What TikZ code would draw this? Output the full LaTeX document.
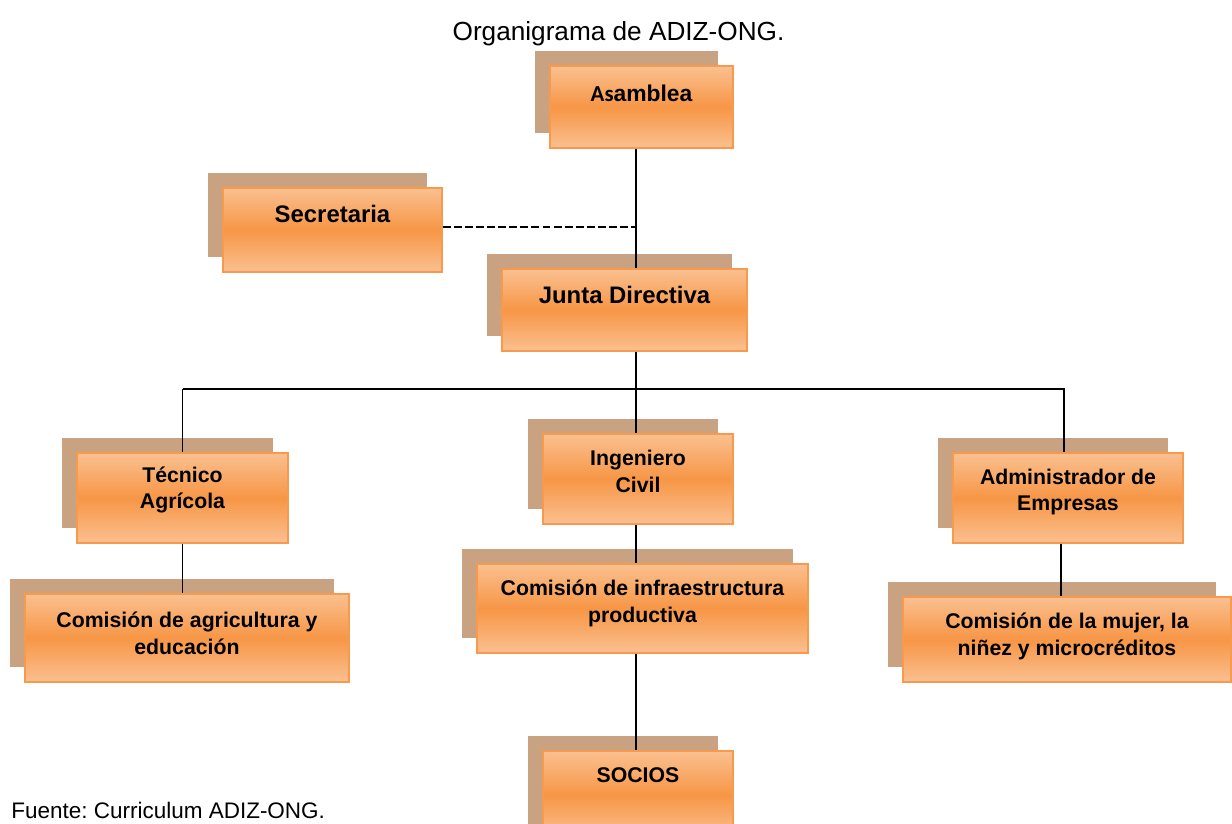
\documentclass[tikz,border=0pt]{standalone}
\usepackage{fontspec}
\setmainfont{Liberation Sans}
\newfontfamily\asfont{Carlito}
\usepackage{tikz}
\frenchspacing
\definecolor{orglight}{HTML}{FAC090}
\definecolor{orgmid}{HTML}{F79646}
\definecolor{orgline}{HTML}{F79A4E}
\definecolor{orgshadow}{HTML}{C9A282}
\tikzstyle{orgbox}=[rectangle, draw=orgline, line width=1.1pt, top color=orglight, bottom color=orglight, middle color=orgmid, preaction={fill=orgshadow, transform canvas={xshift=-0.3cm, yshift=0.3cm}}]
\tikzstyle{lbl}=[align=center, inner sep=0pt, font=\fontsize{12.1}{15.3}\selectfont\bfseries]
\tikzstyle{biglbl}=[lbl, font=\fontsize{13.6}{16}\selectfont\bfseries]
\tikzstyle{conn}=[line width=1pt]

\begin{document}
\begin{tikzpicture}[x=0.02cm, y=-0.02cm]
\useasboundingbox (0,0) rectangle (1232,823);

\node[anchor=base, font=\fontsize{14.9}{17}\selectfont] (title) at (618.5,40) {Organigrama de ADIZ-ONG.};
\node[anchor=base west, inner sep=0pt, font=\fontsize{12.8}{15}\selectfont] (fuente) at (11,818) {Fuente: Curriculum ADIZ-ONG.};

% cargos
\node[orgbox, minimum width=3.66cm, minimum height=1.64cm, label={[lbl, font=\fontsize{13}{15}\selectfont\bfseries, name=asambleatxt, yshift=0.28cm]center:{\asfont As}amblea}] (asamblea) at (641.5,107) {};
\node[orgbox, minimum width=4.38cm, minimum height=1.68cm, label={[biglbl, name=secretariatxt, yshift=0.32cm]center:Secretaria}] (secretaria) at (332.5,230) {};
\node[orgbox, minimum width=4.9cm, minimum height=1.64cm, label={[biglbl, name=juntatxt, yshift=0.3cm]center:Junta Directiva}] (junta) at (624.5,310) {};
\node[orgbox, minimum width=4.22cm, minimum height=1.8cm, label={[lbl, name=tecnicotxt, yshift=0.16cm]center:Técnico\\Agrícola}] (tecnico) at (182.5,498) {};
\node[orgbox, minimum width=3.8cm, minimum height=1.8cm, label={[lbl, name=ingenierotxt, yshift=0.15cm]center:Ingeniero\\Civil}] (ingeniero) at (638,479) {};
\node[orgbox, minimum width=4.6cm, minimum height=1.8cm, label={[lbl, name=admintxt, yshift=0.12cm]center:Administrador de\\Empresas}] (admin) at (1068,498) {};

% comisiones
\node[orgbox, minimum width=6.48cm, minimum height=1.76cm, label={[lbl, name=agritxt, yshift=0.1cm]center:Comisión de agricultura y\\educación}] (agri) at (187,638) {};
\node[orgbox, minimum width=6.62cm, minimum height=1.78cm, label={[lbl, name=infratxt, yshift=0.1cm]center:Comisión de infraestructura\\productiva}] (infra) at (642.5,608.5) {};
\node[orgbox, minimum width=6.56cm, minimum height=1.7cm, label={[lbl, name=mujertxt, yshift=0.07cm]center:Comisión de la mujer, la\\niñez y microcréditos}] (mujer) at (1067,639.5) {};
\node[orgbox, minimum width=3.8cm, minimum height=1.76cm, label={[lbl, name=sociostxt, yshift=0.4cm]center:SOCIOS}] (socios) at (638,795) {};

% lineas
\coordinate (spine) at (636,0);
\coordinate (bus) at (0,389);
\coordinate (secout) at ([yshift=0.06cm]secretaria.east);
\draw[conn] (asamblea.south -| spine) -- (junta.north -| spine);
\draw[conn, line width=1.4pt, dash pattern=on 4.5pt off 1.8pt] (secout) -- (secout -| spine);
\draw[conn] (junta.south -| spine) -- (ingeniero.north -| spine);
\draw[conn] (tecnico.north |- bus) -- (1064,389) -- (admin.north -| 1064,0);
\draw[conn] (tecnico.north |- bus) -- (tecnico.north);
\draw[conn] (tecnico.south) -- (tecnico.south |- agri.north);
\draw[conn] (ingeniero.south -| spine) -- (infra.north -| spine);
\draw[conn] (infra.south -| spine) -- (socios.north -| spine);
\draw[conn] (admin.south -| 1061,0) -- (mujer.north -| 1061,0);
\end{tikzpicture}
\end{document}
